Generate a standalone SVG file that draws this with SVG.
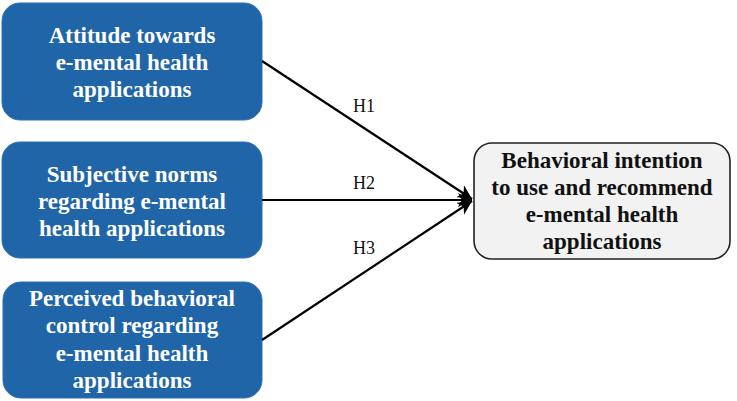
<svg xmlns="http://www.w3.org/2000/svg" width="737" height="401" viewBox="0 0 737 401">
<defs>
<style>
.src rect{fill:#1f65a8;stroke:#2a70b2;stroke-width:1}
.src text{fill:#fff;font-family:"Liberation Serif",serif;font-weight:bold;font-size:23px;text-anchor:middle}
.tgt rect{fill:#f2f2f2;stroke:#222;stroke-width:1.6}
.tgt text{fill:#111;font-family:"Liberation Serif",serif;font-weight:bold;font-size:23px;text-anchor:middle}
.conn line{stroke:#000;stroke-width:2.2;marker-end:url(#ah)}
.lbl{font-family:"Liberation Serif",serif;font-size:18px;fill:#111}
</style>
<marker id="ah" viewBox="0 0 10 10" refX="10" refY="5" markerWidth="6.5" markerHeight="6.5" orient="auto" markerUnits="strokeWidth">
<path d="M0,0 L10,5 L0,10 L3,5 Z" fill="#000"/>
</marker>
</defs>
<g id="node-attitude" class="src">
<rect x="2" y="3" width="260" height="117" rx="18"/>
<text x="132" y="43">Attitude towards</text>
<text x="132" y="70">e-mental health</text>
<text x="132" y="97">applications</text>
</g>
<g id="node-norms" class="src">
<rect x="2" y="142" width="260" height="116" rx="18"/>
<text x="132" y="182">Subjective norms</text>
<text x="132" y="209">regarding e-mental</text>
<text x="132" y="236">health applications</text>
</g>
<g id="node-control" class="src">
<rect x="3" y="282" width="259" height="116" rx="18"/>
<text x="132" y="306">Perceived behavioral</text>
<text x="132" y="333">control regarding</text>
<text x="132" y="361">e-mental health</text>
<text x="132" y="388">applications</text>
</g>
<g id="node-intention" class="tgt">
<rect x="474" y="143" width="256" height="116" rx="18"/>
<text x="602" y="168">Behavioral intention</text>
<text x="602" y="195">to use and recommend</text>
<text x="602" y="222">e-mental health</text>
<text x="602" y="249">applications</text>
</g>
<g id="connectors" class="conn">
<line x1="262" y1="61" x2="472" y2="199"/>
<line x1="262" y1="200" x2="472" y2="200"/>
<line x1="262" y1="340" x2="472" y2="201"/>
</g>
<g id="labels">
<text class="lbl" x="353" y="112">H1</text>
<text class="lbl" x="353" y="189">H2</text>
<text class="lbl" x="353" y="254">H3</text>
</g>
</svg>
